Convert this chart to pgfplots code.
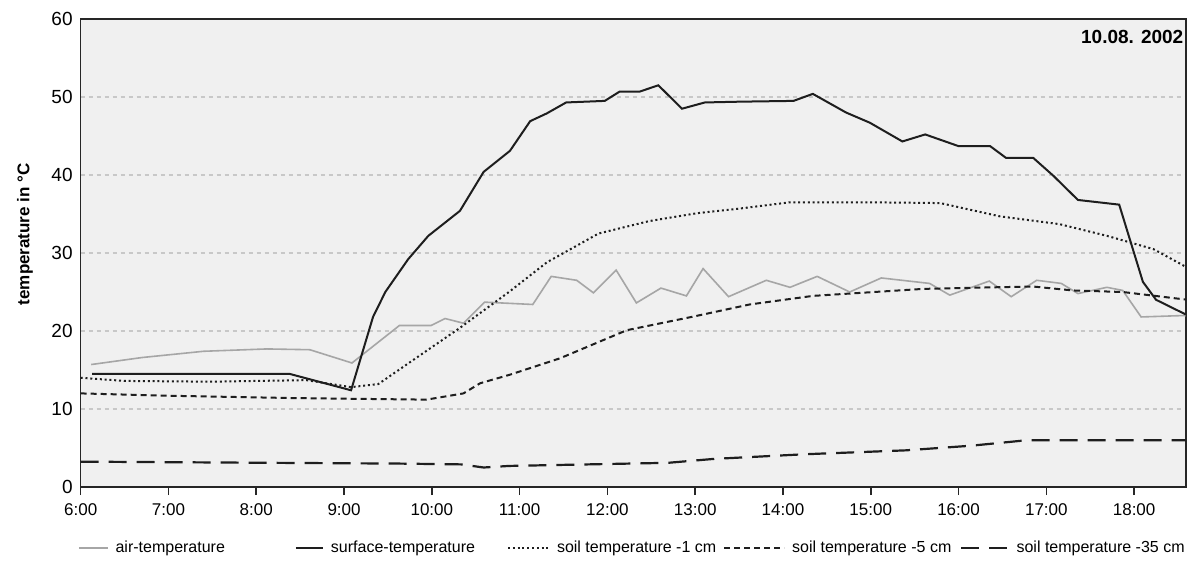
\documentclass[border=0pt]{standalone}
\usepackage{fontspec}
\setmainfont{Liberation Sans}
\usepackage{pgfplots}
\pgfplotsset{compat=1.18}

\definecolor{plotbg}{HTML}{F0F0F0}
\definecolor{airgray}{HTML}{A6A6A6}
\definecolor{darkline}{HTML}{1E1E1E}
\definecolor{gridgray}{HTML}{C8C8C8}

\pgfplotsset{legline/.style={legend image code/.code={\draw[##1] (0pt,0pt) -- (#1,0pt);}}}

\begin{document}
\begin{tikzpicture}
\begin{axis}[
    scale only axis,
    width=552.6pt, height=234pt,
    xmin=6, xmax=18.59,
    ymin=0, ymax=60,
    axis background/.style={fill=plotbg},
    axis line style={draw=black!85, line width=0.8pt},
    xtick={6,7,8,9,10,11,12,13,14,15,16,17,18},
    xticklabels={6:00,7:00,8:00,9:00,10:00,11:00,12:00,13:00,14:00,15:00,16:00,17:00,18:00},
    ytick={0,10,20,30,40,50,60},
    xtick pos=bottom, tick align=outside,
    major tick length=4pt,
    xtick style={draw=black!85, line width=0.8pt},
    ytick style={draw=none},
    ymajorgrids,
    major grid style={gridgray, line width=0.6pt, dash pattern=on 2pt off 2pt},
    /pgf/number format/assume math mode=true,
    xticklabel style={font=\fontsize{8.5}{10}\selectfont, yshift=-1pt},
    yticklabel style={font=\fontsize{9.5}{11}\selectfont},
    yticklabel shift=-3.5pt,
    ylabel={temperature in °C},
    ylabel style={font=\bfseries\fontsize{8.5}{10}\selectfont, at={(axis description cs:-0.0504,0.54)}, anchor=center},
    legend columns=5,
    legend style={draw=none, fill=none, inner sep=0pt, outer sep=0pt,
        at={(-0.00244,-0.130)}, anchor=west,
        font=\fontsize{8}{9.6}\selectfont, nodes={inner sep=0pt},
        /tikz/every odd column/.append style={column sep=3.5pt},
        /tikz/column 2/.style={column sep=35pt},
        /tikz/column 4/.style={column sep=16pt},
        /tikz/column 6/.style={column sep=3.5pt},
        /tikz/column 8/.style={column sep=4.5pt}},
]
% air temperature
\addplot[airgray, line width=0.8pt, legline=14.5pt]
coordinates{(6.12,15.7)(6.7,16.6)(7.40,17.4)(8.12,17.7)(8.61,17.6)(9.09,15.9)
(9.63,20.7)(9.99,20.7)(10.15,21.6)(10.36,21.0)(10.60,23.7)(11.15,23.4)
(11.36,27.0)(11.65,26.5)(11.84,24.9)(12.10,27.8)(12.33,23.6)(12.61,25.5)
(12.90,24.5)(13.09,28.0)(13.38,24.4)(13.81,26.5)(14.08,25.6)(14.39,27.0)
(14.76,25.0)(15.12,26.8)(15.67,26.1)(15.90,24.6)(16.35,26.4)(16.60,24.4)
(16.89,26.5)(17.17,26.1)(17.36,24.8)(17.69,25.6)(17.87,25.2)(18.08,21.8)(18.61,22.0)};
% surface temperature
\addplot[darkline, line width=1pt, legline=13.5pt]
coordinates{(6.13,14.5)(8.38,14.5)(9.08,12.4)(9.33,21.8)(9.47,25.0)(9.73,29.2)
(9.96,32.2)(10.32,35.4)(10.59,40.4)(10.89,43.1)(11.12,46.9)(11.31,47.9)
(11.53,49.3)(11.97,49.5)(12.14,50.7)(12.37,50.7)(12.58,51.5)(12.85,48.5)
(13.11,49.3)(13.51,49.4)(14.12,49.5)(14.34,50.4)(14.72,48.0)(14.99,46.7)
(15.36,44.3)(15.62,45.2)(16.00,43.7)(16.36,43.7)(16.54,42.2)(16.85,42.2)
(17.08,39.9)(17.36,36.8)(17.83,36.2)(18.10,26.3)(18.25,24.0)(18.61,22.0)};
% soil -1 cm
\addplot[darkline, line width=1pt, dash pattern=on 1pt off 1.4pt, legline=20.5pt]
coordinates{(6.00,14.0)(6.5,13.6)(7.47,13.5)(8.57,13.7)(9.08,12.8)(9.39,13.2)
(9.79,16.3)(10.32,20.4)(10.89,25.1)(11.31,28.8)(11.90,32.5)(12.48,34.1)
(13.02,35.1)(13.51,35.7)(14.08,36.5)(15.0,36.5)(15.79,36.4)(16.47,34.7)
(17.15,33.7)(17.69,32.2)(18.22,30.5)(18.61,28.1)};
% soil -5 cm
\addplot[darkline, line width=1pt, dash pattern=on 3pt off 2pt, legline=30pt]
coordinates{(6.00,12.0)(7.0,11.7)(8.42,11.4)(9.94,11.2)(10.36,12.0)(10.55,13.3)
(10.89,14.4)(11.46,16.5)(12.22,20.1)(13.0,21.9)(13.62,23.4)(14.34,24.5)
(15.60,25.4)(16.39,25.6)(16.85,25.7)(17.30,25.2)(17.87,25.0)(18.61,24.0)};
% soil -35 cm
\addplot[darkline, line width=1.1pt, dash pattern=on 9pt off 5pt, legline=23.5pt]
coordinates{(6.00,3.25)(9.64,3.0)(10.33,2.9)(10.59,2.5)(10.88,2.7)(12.69,3.1)
(13.21,3.6)(14.25,4.2)(15.40,4.7)(16.15,5.3)(16.78,6.0)(18.62,6.0)};
\legend{air-temperature, surface-temperature, soil temperature -1 cm, soil temperature -5 cm, soil temperature -35 cm}
\node[anchor=north east, inner sep=0pt, font=\bfseries\fontsize{9.5}{11}\selectfont]
    at (rel axis cs:0.998,0.976) {10.08. 2002};
\end{axis}
\pgfresetboundingbox
\path[use as bounding box] ([xshift=-40.35pt,yshift=-40pt]current axis.south west) rectangle ++(596.5pt,283.5pt);
\end{tikzpicture}
\end{document}
